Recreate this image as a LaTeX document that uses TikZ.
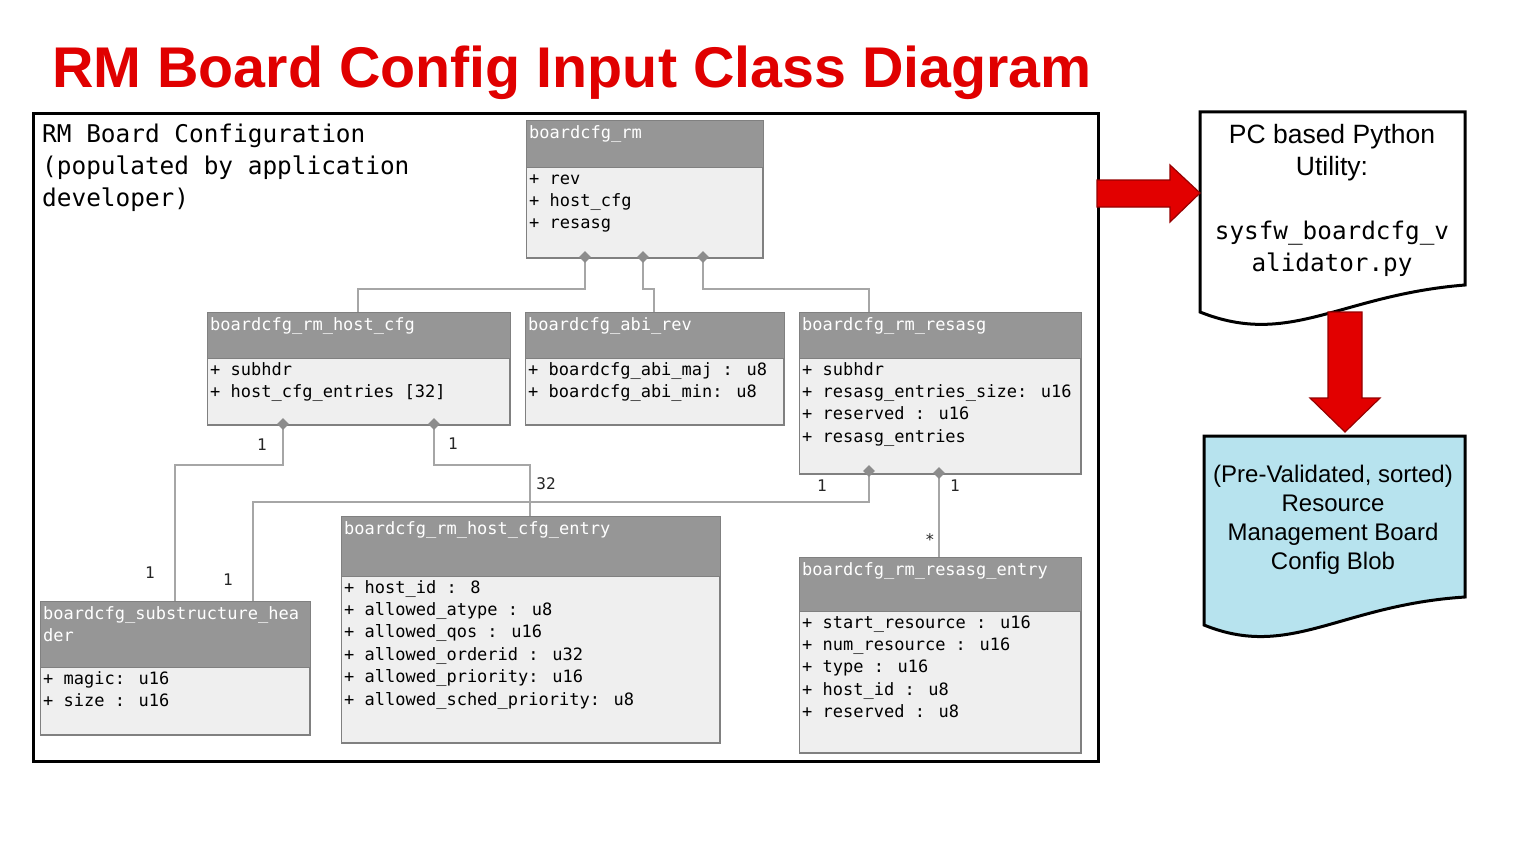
\documentclass[tikz,border=0pt]{standalone}
\usepackage{fontspec}
\setmainfont{Liberation Sans}
\newfontfamily\monof{DejaVu Sans Mono}
\usetikzlibrary{shapes.geometric}
\definecolor{titlered}{RGB}{224,0,0}
\definecolor{clshead}{RGB}{150,150,150}
\definecolor{clsbody}{RGB}{239,239,239}
\definecolor{clsedge}{RGB}{128,128,128}
\definecolor{connc}{RGB}{166,166,166}
\definecolor{diamc}{RGB}{140,140,140}
\definecolor{arrowred}{RGB}{226,0,0}
\definecolor{arrowedge}{RGB}{150,0,0}
\definecolor{blobblue}{RGB}{183,227,238}

\newcommand\sr{\rule[-6.6pt]{0pt}{22.4pt}}
\newcommand\fr{\rule[-9.5pt]{0pt}{32pt}}
\newcommand\br{\rule[-8.5pt]{0pt}{29pt}}

\tikzset{
  clsframe/.style={draw=clsedge, fill=clsbody, line width=1pt, inner sep=0pt, anchor=north west},
  clstext/.style={font=\monof\fontsize{17}{22.4}\selectfont, inner sep=0pt, anchor=north west, align=left},
  conn/.style={draw=connc, line width=1.3pt},
  diam/.style={diamond, fill=diamc, inner sep=0pt, minimum width=12pt, minimum height=12pt},
  lbl/.style={font=\monof\fontsize{16}{18}\selectfont, inner sep=0pt, text=black!85},
  blockarrow/.style={fill=arrowred, draw=arrowedge, line width=1.2pt, line join=miter},
  docshape/.style={draw=black, line width=3pt, line join=miter},
}

% name, x, y, width, height, header height, title, attributes
\newcommand\umlcls[8]{%
  \node[clsframe, minimum width=#4pt, minimum height=#5pt] (#1) at (#2,#3) {};
  \fill[clshead] (#1.north west) rectangle ([yshift=-#6pt]#1.north east);
  \draw[clsedge, line width=1pt] (#1.north west) rectangle (#1.south east);
  \draw[clsedge, line width=0.8pt] ([yshift=-#6pt]#1.north west) -- ([yshift=-#6pt]#1.north east);
  \node[clstext, text=white] (#1-title) at ([xshift=3pt,yshift=-2pt]#1.north west) {#7};
  \node[clstext, text=black] (#1-attrs) at ([xshift=3pt,yshift=-#6pt-1pt]#1.north west) {#8};
}

\begin{document}
\begin{tikzpicture}[x=1pt, y=-1pt]
\useasboundingbox (0,0) rectangle (1536,864);
\fill[white] (0,0) rectangle (1536,864);

% title
\node[anchor=base west, font=\bfseries\fontsize{57.4}{60}\selectfont, text=titlered, inner sep=0pt] (title) at (52,88) {RM Board Config Input Class Diagram};

% frame
\node[draw=black, line width=3pt, minimum width=1065pt, minimum height=648pt, anchor=north west, inner sep=0pt] (frame) at (32,112) {};
\node[anchor=north west, font=\monof\fontsize{24.4}{32}\selectfont, align=left, inner sep=0pt] (frametxt) at (42,120)
  {\fr RM Board Configuration\\\fr(populated by application\\\fr developer)};

% connector target points
\coordinate (hc-in) at (358,312);
\coordinate (abi-in) at (654,312);
\coordinate (rs-in) at (869,312);
\coordinate (sub-in1) at (175,601);
\coordinate (sub-in2) at (253,601);
\coordinate (hce-in) at (530,516);
\coordinate (rse-in) at (939,557);

% classes
\umlcls{rm}{526}{121}{236}{136}{46}{\sr boardcfg\_rm}{\sr+ rev\\\sr+ host\_cfg\\\sr+ resasg}
\umlcls{hc}{207}{312}{302}{112}{46}{\sr boardcfg\_rm\_host\_cfg}{\sr+ subhdr\\\sr+ host\_cfg\_entries [32]}
\umlcls{abi}{525}{312}{258}{112}{46}{\sr boardcfg\_abi\_rev}{\sr+ boardcfg\_abi\_maj : u8\\\sr+ boardcfg\_abi\_min: u8}
\umlcls{rs}{799}{312}{281}{161}{46}{\sr boardcfg\_rm\_resasg}{\sr+ subhdr\\\sr+ resasg\_entries\_size: u16\\\sr+ reserved : u16\\\sr+ resasg\_entries}
\umlcls{hce}{341}{516}{378}{226}{60}{\sr boardcfg\_rm\_host\_cfg\_entry}{\sr+ host\_id : 8\\\sr+ allowed\_atype : u8\\\sr+ allowed\_qos : u16\\\sr+ allowed\_orderid : u32\\\sr+ allowed\_priority: u16\\\sr+ allowed\_sched\_priority: u8}
\umlcls{rse}{799}{557}{281}{195}{54}{\sr boardcfg\_rm\_resasg\_entry}{\sr+ start\_resource : u16\\\sr+ num\_resource : u16\\\sr+ type : u16\\\sr+ host\_id : u8\\\sr+ reserved : u8}
\umlcls{sub}{40}{601}{269}{133}{66}{\sr boardcfg\_substructure\_hea\\\sr der}{\sr+ magic: u16\\\sr+ size : u16}

% diamond anchors
\coordinate (d1) at (585,257);
\coordinate (d2) at (643,257);
\coordinate (d3) at (703,257);
\coordinate (d4) at (283,424);
\coordinate (d5) at (434,424);
\coordinate (d6) at (869,471);
\coordinate (d7) at (939,473);

% connectors
\draw[conn] (d1) -- (d1 |- 0,289) -| (hc-in);
\draw[conn] (d2) -- (d2 |- 0,289) -| (abi-in);
\draw[conn] (d3) -- (d3 |- 0,289) -| (rs-in);
\draw[conn] (d4) -- (d4 |- 0,465) -| (sub-in1);
\draw[conn] (d5) -- (d5 |- 0,465) -| (hce-in);
\draw[conn] (d6) -- (d6 |- 0,502) -| (sub-in2);
\draw[conn] (d7) -- (rse-in);

\foreach \d in {d1,d2,d3,d4,d5,d6,d7} \node[diam] (\d-m) at (\d) {};

% multiplicities
\node[lbl] (l1) at (262,445) {1};
\node[lbl] (l2) at (150,573) {1};
\node[lbl] (l3) at (453,444) {1};
\node[lbl] (l4) at (546,484) {32};
\node[lbl] (l5) at (822,486) {1};
\node[lbl] (l6) at (228,580) {1};
\node[lbl] (l7) at (955,486) {1};
\node[lbl] (l8) at (930,540) {*};

% right side: document 1
\draw[docshape, fill=white] (1200,112) -- (1465,112) -- (1465,285)
   .. controls (1340,295) and (1290,348) .. (1200,312) -- cycle;
\node[anchor=north, align=center, inner sep=0pt, font=\fontsize{26.5}{32}\selectfont] (util) at (1332,121)
  {\fr PC based Python\\\fr Utility:\\\fr\\\fr{\monof\fontsize{24.3}{32}\selectfont sysfw\_boardcfg\_v}\\\fr{\monof\fontsize{24.3}{32}\selectfont alidator.py}};

% document 2
\draw[docshape, fill=blobblue] (1204,436) -- (1465,436) -- (1465,597)
   .. controls (1340,605) and (1290,660) .. (1204,625) -- cycle;
\node[anchor=north, align=center, inner sep=0pt, font=\fontsize{24}{29}\selectfont] (blob) at (1333,462)
  {\br(Pre-Validated, sorted)\\\br Resource\\\br Management Board\\\br Config Blob};

% block arrows
\draw[blockarrow] (1097,180) -- (1170,180) -- (1170,165) -- (1200,193) -- (1170,222) -- (1170,207) -- (1097,207) -- cycle;
\draw[blockarrow] (1328,312) -- (1362,312) -- (1362,398) -- (1380,398) -- (1345,432) -- (1310,398) -- (1328,398) -- cycle;
\end{tikzpicture}
\end{document}
